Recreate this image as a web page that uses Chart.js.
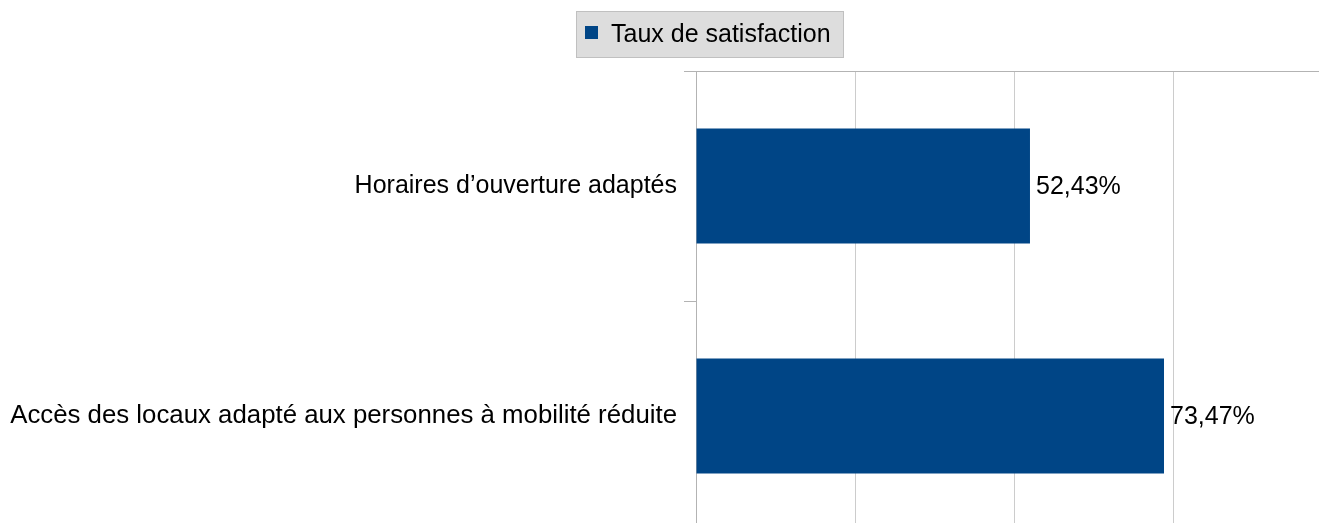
<!DOCTYPE html>
<html>
<head>
<meta charset="utf-8">
<script src="https://cdn.jsdelivr.net/npm/chart.js@4/dist/chart.umd.min.js"></script>
<style>
  html, body { margin: 0; padding: 0; overflow: hidden; background: #fff; }
  #wrap { position: relative; width: 1333px; height: 531px; }
</style>
</head>
<body>
<div id="wrap"><canvas id="chart"></canvas></div>
<script>
const categories = ['Horaires d’ouverture adaptés', 'Accès des locaux adapté aux personnes à mobilité réduite'];
const satisfaction = [52.43, 73.47];
const seriesLabel = 'Taux de satisfaction';
const xTicks = [0, 25, 50, 75, 100];

const FONT = '"Liberation Sans", Arial, sans-serif';
const BLUE = '#004586';

// legend box like the office export
const legendBox = {
  id: 'legendBox',
  afterDraw(chart) {
    const ctx = chart.ctx;
    ctx.save();
    ctx.fillStyle = '#dddddd';
    ctx.fillRect(576.5, 11.5, 267, 46);
    ctx.strokeStyle = '#c0c0c0';
    ctx.lineWidth = 1;
    ctx.strokeRect(576.5, 11.5, 267, 46);
    ctx.fillStyle = BLUE;
    ctx.fillRect(585, 26, 13, 13);
    ctx.fillStyle = '#000';
    ctx.font = '25px ' + FONT;
    ctx.textBaseline = 'middle';
    ctx.fillText(chart.data.datasets[0].label, 611, 35);
    ctx.restore();
  }
};

// value labels at bar ends
const valueLabels = {
  id: 'valueLabels',
  afterDatasetsDraw(chart) {
    const ctx = chart.ctx;
    const meta = chart.getDatasetMeta(0);
    ctx.save();
    ctx.fillStyle = '#000';
    ctx.font = '25px ' + FONT;
    ctx.textBaseline = 'middle';
    meta.data.forEach((bar, i) => {
      const txt = satisfaction[i].toFixed(2).replace('.', ',') + '%';
      ctx.fillText(txt, bar.x + 6, bar.y + 1);
    });
    ctx.restore();
  }
};

new Chart(document.getElementById('chart'), {
  type: 'bar',
  data: {
    labels: categories,
    datasets: [{
      label: seriesLabel,
      data: satisfaction,
      backgroundColor: BLUE,
      categoryPercentage: 1,
      barPercentage: 0.5
    }]
  },
  options: {
    indexAxis: 'y',
    responsive: true,
    maintainAspectRatio: false,
    animation: false,
    layout: { padding: { top: 71, left: 0, right: 0, bottom: 0 } },
    plugins: {
      legend: { display: false },
      tooltip: { enabled: false }
    },
    scales: {
      x: {
        position: 'top',
        min: 0,
        max: 100,
        afterBuildTicks: s => { s.ticks = xTicks.map(v => ({ value: v })); },
        ticks: { display: false },
        grid: { color: '#cccccc', drawTicks: false, lineWidth: 1 },
        border: { display: true, color: '#b3b3b3', width: 1 },
        afterFit: s => { s.height = 0; s.paddingLeft = 0; s.paddingRight = 0; }
      },
      y: {
        afterFit: s => { s.width = 696; s.paddingTop = 0; s.paddingBottom = 0; },
        ticks: {
          color: '#000',
          padding: 7,
          // long label is rendered a bit wider in the original
          font: c => ({ family: FONT, size: c.index === 1 ? 25.8 : 25 })
        },
        grid: {
          offset: true,
          drawOnChartArea: false,
          drawTicks: true,
          tickLength: 12,
          color: '#b3b3b3'
        },
        border: { display: true, color: '#b3b3b3', width: 1 }
      }
    }
  },
  plugins: [legendBox, valueLabels]
});
</script>
</body>
</html>
